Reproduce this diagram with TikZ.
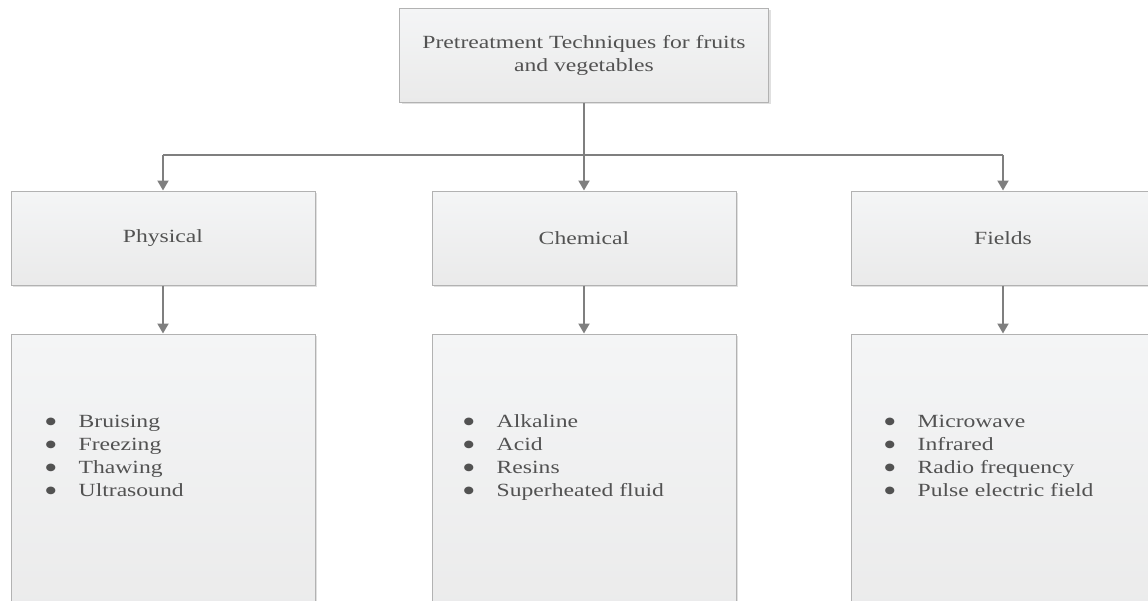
\documentclass[tikz,border=0pt]{standalone}
\usepackage{fontspec}
\setmainfont{Liberation Serif}[FakeStretch=1.27]
\newfontfamily\dotfont{DejaVu Sans}[FakeStretch=1.2]
\usetikzlibrary{arrows.meta,shadows}

\definecolor{txt}{HTML}{525252}
\definecolor{edge}{HTML}{B2B2B2}
\definecolor{wire}{HTML}{7F7F7F}
\definecolor{filltop}{HTML}{F4F5F6}
\definecolor{fillbot}{HTML}{EAEAEA}

\tikzset{
  box/.style={draw=edge, line width=1pt, top color=filltop, bottom color=fillbot,
    inner sep=0pt, text=txt, font=\fontsize{18.6}{23}\selectfont, align=center,
    drop shadow={shadow xshift=2pt, shadow yshift=-2pt, fill=black, opacity=0.12}},
  catbox/.style={box, minimum width=304pt, minimum height=94pt},
  listbox/.style={box, minimum width=304pt, minimum height=306pt},
  items/.style={anchor=base west, inner sep=0pt, text=txt, font=\fontsize{18.6}{23.3}\selectfont},
  link/.style={draw=wire, line width=2pt},
  arrow/.style={link, -{Triangle[width=11pt,length=10pt]}},
}

% list bullet: a small solid circle
\newcommand{\listdot}{\raisebox{3pt}{\dotfont\fontsize{10}{10}\selectfont ●}}
\newcommand{\itemlist}[4]{%
  \begin{tabular}[t]{@{}p{33pt}@{}l@{}}
  \listdot & #1\\ \listdot & #2\\ \listdot & #3\\ \listdot & #4
  \end{tabular}}

\begin{document}
\begin{tikzpicture}[x=1pt,y=-1pt]
  \useasboundingbox (0,0) rectangle (1148,600);
  \clip (0,0) rectangle (1148,600);

  % root
  \node[box, minimum width=369pt, minimum height=94pt] (root) at (584,55)
    {Pretreatment Techniques for fruits\\and vegetables};

  % categories
  \node[catbox] (phys) at (163,238) {Physical};
  \node[catbox] (chem) at (584,238) {Chemical};
  \node[catbox] (fld)  at (1003,238) {Fields};

  % technique boxes (run past the lower edge)
  \node[listbox] (physL) at (163,487) {};
  \node[listbox] (chemL) at (584,487) {};
  \node[listbox] (fldL)  at (1003,487) {};

  \node[items] (physI) at (45.5,427) {\itemlist{Bruising}{Freezing}{Thawing}{Ultrasound}};
  \node[items] (chemI) at (463.5,427) {\itemlist{Alkaline}{Acid}{Resins}{Superheated fluid}};
  \node[items] (fldI)  at (884.5,427) {\itemlist{Microwave}{Infrared}{Radio frequency}{Pulse electric field}};

  % connectors
  \coordinate (bus) at (0,155);
  \draw[link] (root.south) -- (root.south |- bus);
  \draw[link] (phys.north |- bus) -- (fld.north |- bus);
  \draw[arrow] (phys.north |- bus) -- (phys.north);
  \draw[arrow] (root.south |- bus) -- (chem.north);
  \draw[arrow] (fld.north |- bus) -- (fld.north);

  \draw[arrow] (phys.south) -- (physL.north);
  \draw[arrow] (chem.south) -- (chemL.north);
  \draw[arrow] (fld.south) -- (fldL.north);
\end{tikzpicture}
\end{document}
